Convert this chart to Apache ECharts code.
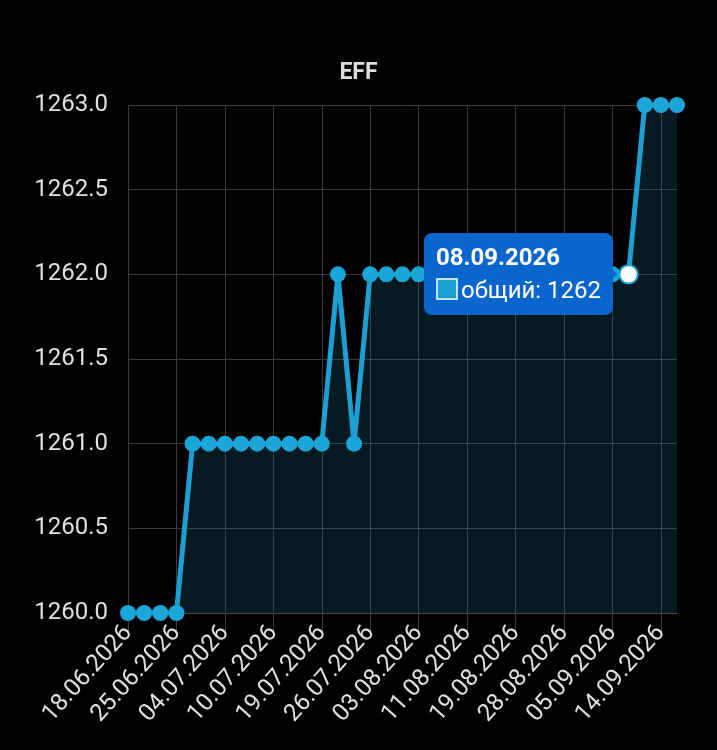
<!DOCTYPE html>
<html>
<head>
<meta charset="utf-8">
<script src="https://cdn.jsdelivr.net/npm/echarts@6/dist/echarts.min.js"></script>
<style>
html,body{margin:0;padding:0;background:#000;}
#chart{width:717px;height:750px;}
</style>
</head>
<body>
<div id="chart"></div>
<script>
const titleText = 'EFF';
const seriesName = 'общий';
const dates = ['18.06.2026','20.06.2026','23.06.2026','25.06.2026','28.06.2026','01.07.2026','04.07.2026','06.07.2026','08.07.2026','10.07.2026','13.07.2026','16.07.2026','19.07.2026','21.07.2026','24.07.2026','26.07.2026','29.07.2026','31.07.2026','03.08.2026','05.08.2026','08.08.2026','11.08.2026','14.08.2026','17.08.2026','19.08.2026','22.08.2026','25.08.2026','28.08.2026','31.08.2026','02.09.2026','05.09.2026','08.09.2026','11.09.2026','14.09.2026','17.09.2026'];
const values = [1260,1260,1260,1260,1261,1261,1261,1261,1261,1261,1261,1261,1261,1262,1261,1262,1262,1262,1262,1262,1262,1262,1262,1262,1262,1262,1262,1262,1262,1262,1262,1262,1263,1263,1263];
const yMin = 1260, yMax = 1263, yStep = 0.5;
const tipIndex = 31;

const chart = echarts.init(document.getElementById('chart'));
const font = 'Roboto, "Noto Sans", sans-serif';
chart.setOption({
  backgroundColor: '#000',
  animation: false,
  textStyle: {fontFamily: font},
  title: {
    text: titleText, left: 'center', top: 57,
    textStyle: {color: '#dcdcdc', fontSize: 23, fontWeight: 'bold', fontFamily: font}
  },
  grid: {left: 128, right: 40, top: 105, bottom: 137, containLabel: false},
  tooltip: {
    trigger: 'item',
    position: 'left',
    backgroundColor: '#0a66cc',
    borderColor: '#0a66cc',
    borderWidth: 0,
    borderRadius: 8,
    padding: [8, 12, 8, 12],
    extraCssText: 'box-shadow:none;',
    formatter: function (p) {
      return '<div style="color:#fff;font-family:Roboto;font-weight:bold;font-size:24px;line-height:32px;">' + p.name + '</div>' +
        '<div style="color:#fff;font-family:Roboto;font-size:24px;line-height:34px;">' +
        '<span style="display:inline-block;width:18px;height:18px;background:#1a9fd0;border:2px solid #bfe3f3;margin-right:3px;vertical-align:-2px;"></span>' +
        p.seriesName + ': ' + p.value + '</div>';
    }
  },
  xAxis: {
    type: 'category',
    data: dates,
    boundaryGap: false,
    axisLine: {show: true, lineStyle: {color: '#4a4a4a', width: 1}},
    axisTick: {show: true, alignWithLabel: true, interval: 2, length: 20, lineStyle: {color: '#3c3c3c'}},
    axisLabel: {interval: 2, rotate: 48, color: '#e0e0e0', fontSize: 24, fontFamily: font, margin: 16},
    splitLine: {show: true, interval: 2, lineStyle: {color: '#3a3a3a', width: 1}}
  },
  yAxis: {
    type: 'value',
    min: yMin, max: yMax, interval: yStep,
    axisLine: {show: false},
    axisTick: {show: false},
    axisLabel: {color: '#e0e0e0', fontSize: 24, fontFamily: font, margin: 20,
      formatter: v => v.toFixed(1)},
    splitLine: {show: true, lineStyle: {color: '#3a3a3a', width: 1}}
  },
  series: [{
    name: seriesName,
    type: 'line',
    data: values,
    symbol: 'circle',
    symbolSize: 16,
    showAllSymbol: true,
    lineStyle: {color: '#1a92c0', width: 5},
    itemStyle: {color: '#1aa6d8', borderWidth: 0},
    areaStyle: {color: 'rgba(20,110,140,0.3)'},
    emphasis: {
      scale: 1.15,
      itemStyle: {color: '#ffffff', borderColor: '#1aa6d8', borderWidth: 2}
    }
  }]
});
setTimeout(function () {
  chart.dispatchAction({type: 'highlight', seriesIndex: 0, dataIndex: tipIndex});
  chart.dispatchAction({type: 'showTip', seriesIndex: 0, dataIndex: tipIndex});
}, 50);
</script>
</body>
</html>
